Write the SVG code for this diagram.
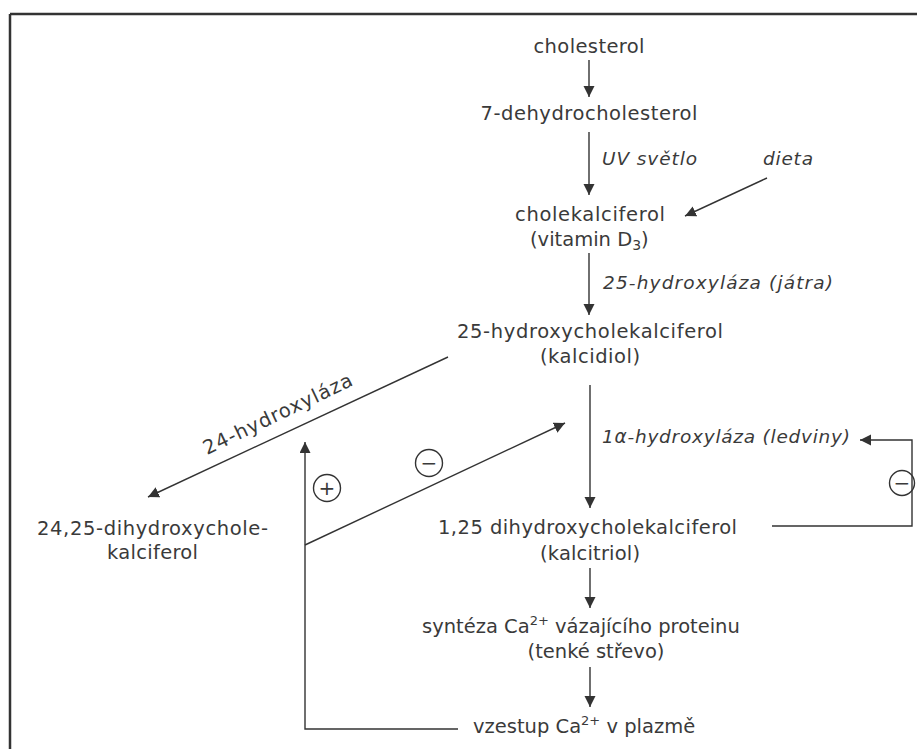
<svg xmlns="http://www.w3.org/2000/svg" width="917" height="749" viewBox="0 0 917 749">
<defs>
<marker id="ah" markerUnits="userSpaceOnUse" markerWidth="12" markerHeight="12" refX="11" refY="5.5" orient="auto">
<path d="M0,0 L11,5.5 L0,11 z" fill="#333"/>
</marker>
<style>
text{font-family:"DejaVu Sans","Liberation Sans",sans-serif;font-size:19.5px;fill:#3a3a3a}
.c{text-anchor:middle}
.i{font-style:italic;font-size:18.5px}
.l{fill:none;stroke:#333;stroke-width:1.4}
.a{fill:none;stroke:#333;stroke-width:1.4;marker-end:url(#ah)}
.sym{font-size:20px;text-anchor:middle}
</style>
</defs>
<rect width="917" height="749" fill="#fff"/>
<g id="frame">
<line x1="10" y1="14" x2="917" y2="14" stroke="#333" stroke-width="2.5"/>
<line x1="10" y1="14" x2="10" y2="749" stroke="#333" stroke-width="2.5"/>
</g>
<g id="n-cholesterol"><text class="c" x="589" y="53" textLength="111" lengthAdjust="spacing">cholesterol</text></g>
<g id="n-7dehydro"><text class="c" x="589" y="120" textLength="217" lengthAdjust="spacing">7-dehydrocholesterol</text></g>
<g id="n-uv"><text class="i" x="602" y="165" textLength="95" lengthAdjust="spacing">UV světlo</text></g>
<g id="n-dieta"><text class="i" x="763" y="165" textLength="50" lengthAdjust="spacing">dieta</text></g>
<g id="n-cholekalciferol">
<text class="c" x="590" y="221" textLength="150" lengthAdjust="spacing">cholekalciferol</text>
<text x="530" y="246">(vitamin D<tspan dy="4" font-size="14">3</tspan><tspan dy="-4">)</tspan></text>
</g>
<g id="n-25hydroxylaza"><text class="i" x="603" y="289" textLength="230" lengthAdjust="spacing">25-hydroxyláza (játra)</text></g>
<g id="n-kalcidiol">
<text class="c" x="590" y="338" textLength="266" lengthAdjust="spacing">25-hydroxycholekalciferol</text>
<text class="c" x="590" y="363" textLength="100" lengthAdjust="spacing">(kalcidiol)</text>
</g>
<g id="n-24hydroxylaza"><text x="0" y="0" transform="translate(207,455) rotate(-25.5)" textLength="163" lengthAdjust="spacing">24-hydroxyláza</text></g>
<g id="n-1ahydroxylaza"><text class="i" x="602" y="443" textLength="248" lengthAdjust="spacing">1α-hydroxyláza (ledviny)</text></g>
<g id="n-2425">
<text x="37" y="535" textLength="231" lengthAdjust="spacing">24,25-dihydroxychole-</text>
<text x="107" y="559" textLength="91" lengthAdjust="spacing">kalciferol</text>
</g>
<g id="n-kalcitriol">
<text x="438" y="534" textLength="299" lengthAdjust="spacing">1,25 dihydroxycholekalciferol</text>
<text class="c" x="590" y="560" textLength="100" lengthAdjust="spacing">(kalcitriol)</text>
</g>
<g id="n-syntéza">
<text x="422" y="633">syntéza Ca<tspan dy="-8" font-size="13">2+</tspan><tspan dy="8"> vázajícího proteinu</tspan></text>
<text class="c" x="596" y="658">(tenké střevo)</text>
</g>
<g id="n-vzestup"><text x="473" y="733">vzestup Ca<tspan dy="-8" font-size="13">2+</tspan><tspan dy="8"> v plazmě</tspan></text></g>
<g id="n-plus"><circle cx="327" cy="488" r="13.5" fill="none" stroke="#333" stroke-width="1.4"/><text class="sym" x="327" y="495">+</text></g>
<g id="n-minus1"><circle cx="429" cy="463" r="13.5" fill="none" stroke="#333" stroke-width="1.4"/><text class="sym" x="429" y="470">−</text></g>
<g id="n-minus2"><circle cx="902" cy="483" r="12.5" fill="none" stroke="#333" stroke-width="1.4"/><text class="sym" x="902" y="490">−</text></g>
<g id="connectors">
<line class="a" x1="589" y1="60" x2="589" y2="97"/>
<line class="a" x1="589" y1="132" x2="589" y2="195"/>
<line class="a" x1="767" y1="178" x2="685" y2="216"/>
<line class="a" x1="589" y1="253" x2="589" y2="315"/>
<line class="a" x1="448" y1="357" x2="148" y2="497"/>
<line class="a" x1="590" y1="385" x2="590" y2="508"/>
<line class="a" x1="590" y1="568" x2="590" y2="608"/>
<line class="a" x1="590" y1="667" x2="590" y2="707"/>
<polyline class="a" points="772,526 912,526 912,440 860,440"/>
<polyline class="a" points="458,729 305,729 305,442"/>
<line class="a" x1="305" y1="545" x2="565" y2="423"/>
</g>
</svg>
